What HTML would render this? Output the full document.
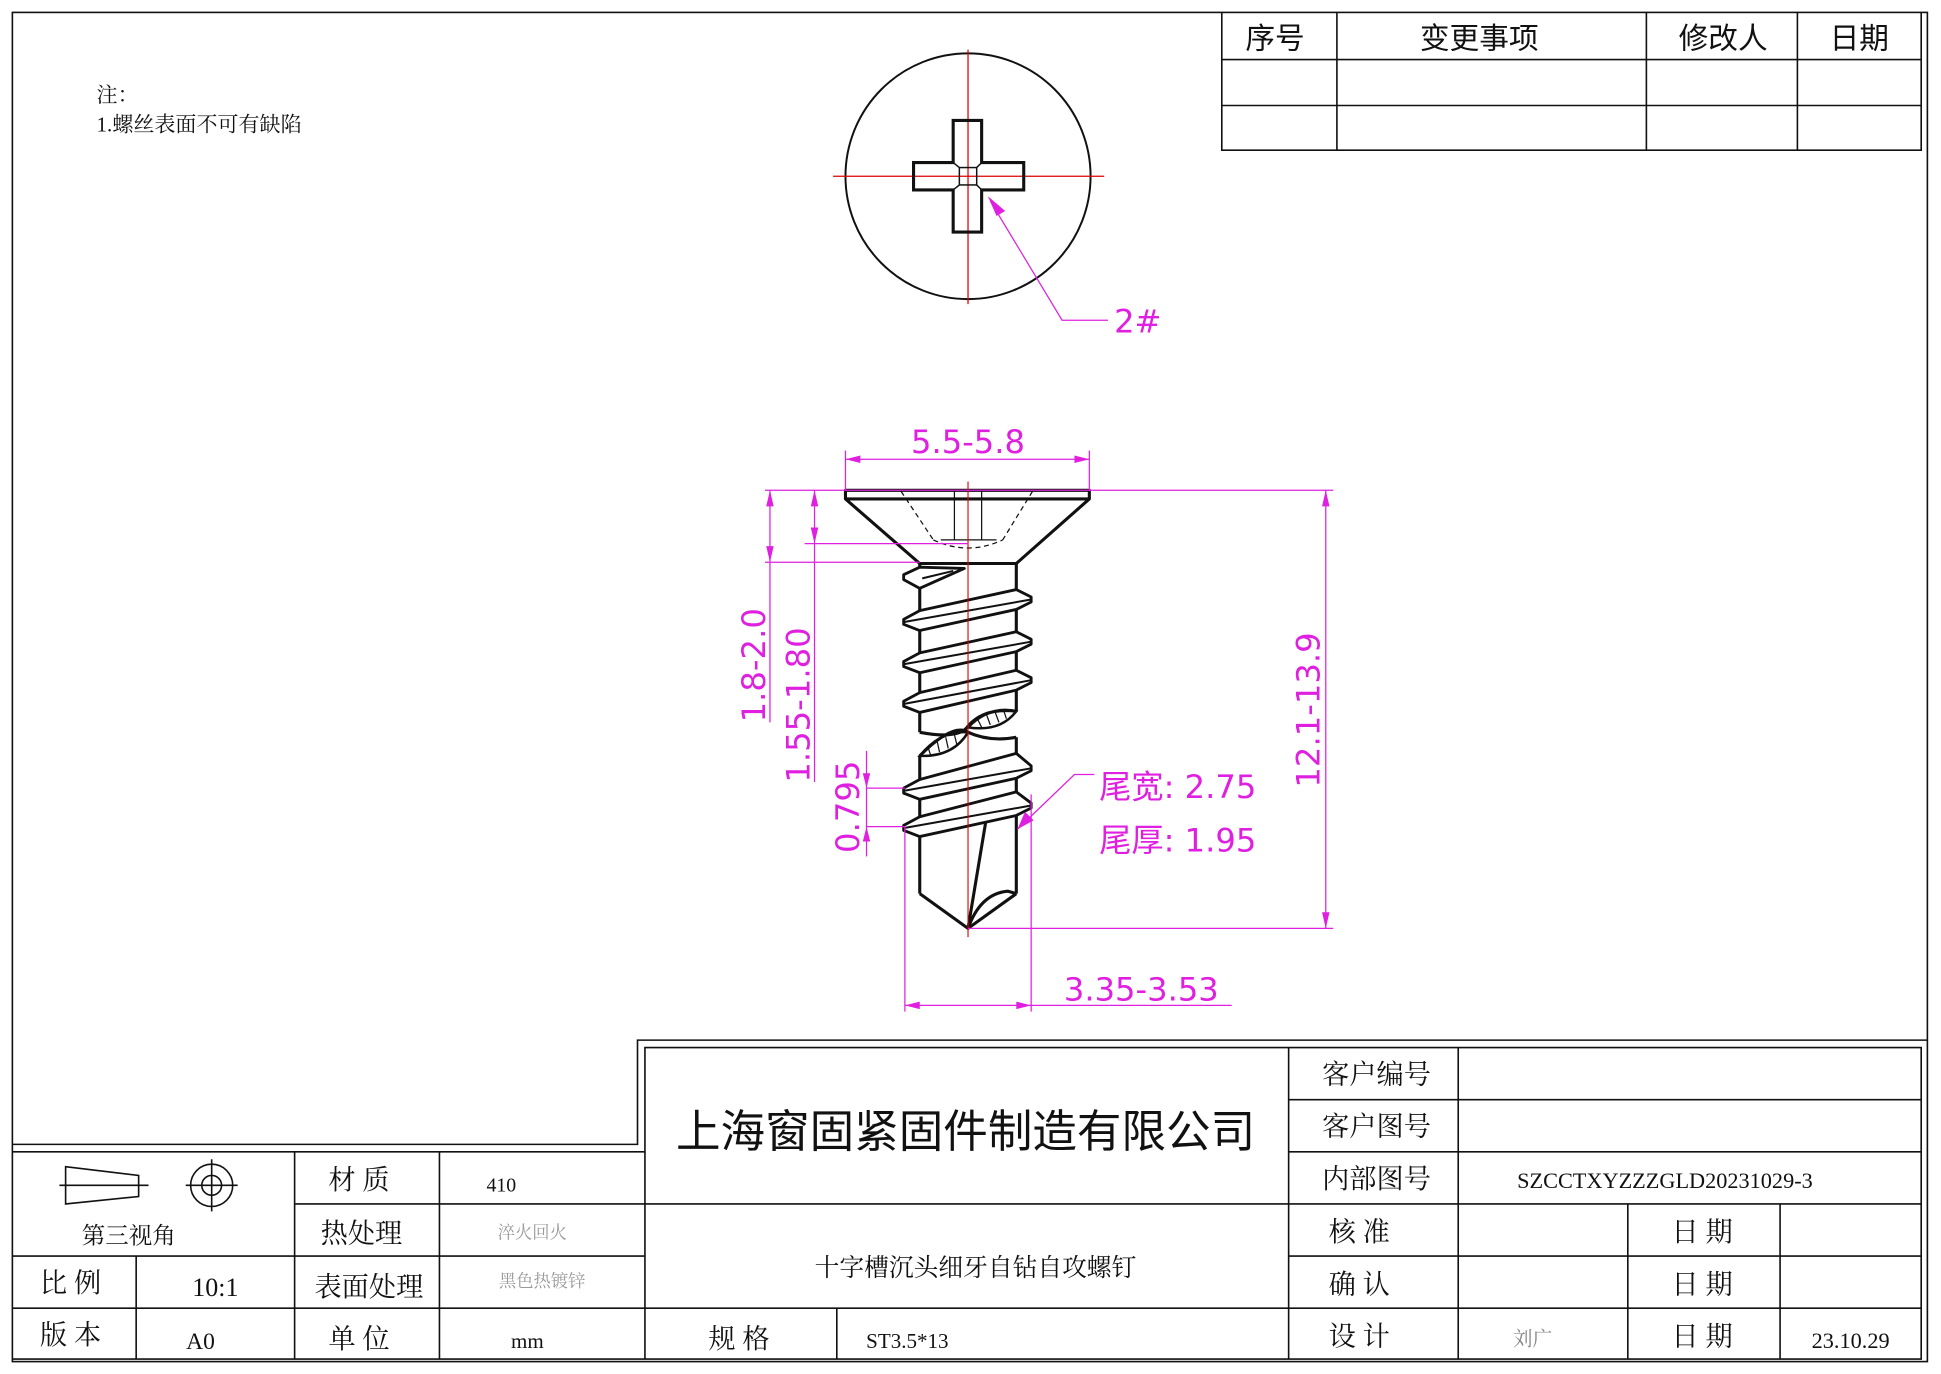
<!DOCTYPE html>
<html><head><meta charset="utf-8"><style>
html,body{margin:0;padding:0;background:#fff}
svg{display:block}
.t{font-family:"Liberation Serif","Noto Serif CJK SC",serif;fill:#111}
.s{font-family:"Liberation Sans","Noto Sans CJK SC",sans-serif}
.m{font-family:"DejaVu Sans","Liberation Sans","Noto Sans CJK SC",sans-serif;fill:#e020e0}
</style></head><body>
<svg width="1941" height="1374" viewBox="0 0 1568 1107" preserveAspectRatio="none" xmlns="http://www.w3.org/2000/svg">
<rect x="0" y="0" width="1568" height="1107" fill="#fff"/>
<g fill="none" stroke="#111" stroke-width="1.3">
<rect x="10" y="10" width="1547" height="1087"/>
<polyline points="10,922 515,922 515,838 1557,838"/>
<polyline points="10,928 521,928 521,844 1552,844 1552,1095 10,1095"/>
<line x1="521" y1="928" x2="521" y2="1095"/>
<!-- left block -->
<line x1="238" y1="928" x2="238" y2="1095"/>
<line x1="355" y1="928" x2="355" y2="1095"/>
<line x1="110" y1="1012" x2="110" y2="1095"/>
<line x1="238" y1="970" x2="521" y2="970"/>
<line x1="10" y1="1012" x2="521" y2="1012"/>
<line x1="10" y1="1054" x2="1552" y2="1054"/>
<!-- right block -->
<line x1="1041" y1="844" x2="1041" y2="1095"/>
<line x1="1178" y1="844" x2="1178" y2="1095"/>
<line x1="1315" y1="970" x2="1315" y2="1095"/>
<line x1="1438" y1="970" x2="1438" y2="1095"/>
<line x1="1041" y1="886" x2="1552" y2="886"/>
<line x1="1041" y1="928" x2="1552" y2="928"/>
<line x1="521" y1="970" x2="1552" y2="970"/>
<line x1="1041" y1="1012" x2="1552" y2="1012"/>
<line x1="676" y1="1054" x2="676" y2="1095"/>
<!-- revision table -->
<polyline points="987,10 987,121 1552,121 1552,10"/>
<line x1="987" y1="48" x2="1552" y2="48"/>
<line x1="987" y1="85" x2="1552" y2="85"/>
<line x1="1080" y1="10" x2="1080" y2="121"/>
<line x1="1330" y1="10" x2="1330" y2="121"/>
<line x1="1452" y1="10" x2="1452" y2="121"/>
<!-- projection symbol -->
<polygon points="53,940 112,947 112,964 53,970"/>
<line x1="48" y1="955" x2="120" y2="955"/>
<circle cx="171" cy="955" r="17"/>
<circle cx="171" cy="955" r="8"/>
<line x1="150" y1="955" x2="192" y2="955"/>
<line x1="171" y1="934" x2="171" y2="976"/>
</g>
<g class="s" font-size="24" fill="#111" text-anchor="middle">
<text x="1030" y="39">序号</text><text x="1195" y="39">变更事项</text><text x="1392" y="39">修改人</text><text x="1502" y="39">日期</text>
</g>
<g class="t" font-size="17"><text x="78" y="82">注：</text><text x="78" y="106">1.螺丝表面不可有缺陷</text></g>
<g class="t" font-size="22" text-anchor="middle">
<text x="104" y="1002" font-size="19">第三视角</text>
<text x="290" y="958">材 质</text><text x="292" y="1001">热处理</text><text x="298" y="1044">表面处理</text><text x="290" y="1086">单 位</text>
<text x="57" y="1041">比 例</text><text x="57" y="1083">版 本</text>
<text x="174" y="1044" font-size="21">10:1</text><text x="162" y="1087" font-size="19">A0</text>
<text x="405" y="960" font-size="16">410</text><text x="426" y="1086" font-size="17">mm</text>
<text x="430" y="998" font-size="14" fill="#999">淬火回火</text><text x="438" y="1037" font-size="14" fill="#999">黑色热镀锌</text>
<text x="780" y="924" font-size="36" class="s">上海窗固紧固件制造有限公司</text>
<text x="788" y="1028" font-size="20">十字槽沉头细牙自钻自攻螺钉</text>
<text x="597" y="1086">规 格</text>
<text x="733" y="1086" font-size="17">ST3.5*13</text>
<text x="1112" y="873">客户编号</text><text x="1112" y="915">客户图号</text><text x="1112" y="957">内部图号</text>
<text x="1345" y="957" font-size="18">SZCCTXYZZZGLD20231029-3</text>
<text x="1098" y="1000">核 准</text><text x="1098" y="1042">确 认</text><text x="1098" y="1084">设 计</text>
<text x="1375" y="1000">日 期</text><text x="1375" y="1042">日 期</text><text x="1375" y="1084">日 期</text>
<text x="1238" y="1084" font-size="16" fill="#888">刘广</text>
<text x="1495" y="1086" font-size="18">23.10.29</text>
</g>
<circle cx="782" cy="142" r="99" fill="none" stroke="#111" stroke-width="1.6"/>
<g stroke="#d00" stroke-width="1"><line x1="673" y1="142" x2="892" y2="142"/><line x1="782" y1="40" x2="782" y2="245"/></g>
<polygon points="770,97 793,97 793,131 827,131 827,153 793,153 793,187 770,187 770,153 738,153 738,131 770,131" fill="none" stroke="#111" stroke-width="2.5"/>
<g stroke="#111" stroke-width="1.2" fill="none"><rect x="775" y="135" width="14" height="14"/><line x1="770" y1="131" x2="775" y2="135"/><line x1="793" y1="131" x2="789" y2="135"/><line x1="770" y1="153" x2="775" y2="149"/><line x1="793" y1="153" x2="789" y2="149"/></g>
<g stroke="#e020e0" stroke-width="1" fill="none"><polyline points="800,162 858,258 895,258"/></g>
<polygon points="798,158 812,170 805,174" fill="#e020e0"/>
<text x="900" y="268" class="m" font-size="26">2#</text>
<g stroke="#111" stroke-width="2.5" fill="none" stroke-linejoin="round">
<polygon points="683,395 880,395 880,402 821,454 743,454 683,402" fill="#fff"/>
<line x1="683" y1="402" x2="880" y2="402"/>
<line x1="743" y1="454" x2="743" y2="590"/><line x1="821" y1="454" x2="821" y2="573"/>
<line x1="743" y1="609" x2="743" y2="720"/><line x1="821" y1="594" x2="821" y2="720"/>
<polyline points="743,720 782,748 821,720"/>
<line x1="797" y1="658" x2="782" y2="748"/>
<path d="M782,748 Q792,720 814,718 L821,720"/>
<path d="M743,590 Q775,596 782,585 Q795,570 821,573"/>
<path d="M743,609 Q770,582 782,590 Q800,598 821,594"/>
</g>
<g stroke="#111" stroke-width="1" fill="none">
<path d="M782,586 Q800,568 821,573 Q808,590 782,586 Z" stroke-width="2"/>
<path d="M743,609 Q760,588 782,590 Q770,610 743,609 Z" stroke-width="2"/>
<line x1="790" y1="580" x2="793" y2="586"/><line x1="797" y1="576" x2="800" y2="584"/><line x1="804" y1="574" x2="807" y2="582"/><line x1="811" y1="573" x2="813" y2="579"/>
<line x1="750" y1="603" x2="752" y2="609"/><line x1="757" y1="597" x2="759" y2="606"/><line x1="764" y1="594" x2="766" y2="603"/><line x1="771" y1="592" x2="773" y2="600"/>
<g stroke-dasharray="4,3"><line x1="728" y1="396" x2="754" y2="435"/><line x1="834" y1="396" x2="810" y2="435"/><path d="M754,435 Q782,448 810,435"/></g>
<line x1="771" y1="396" x2="771" y2="435"/><line x1="793" y1="396" x2="793" y2="435"/>
<line x1="760" y1="435" x2="805" y2="435"/>
</g>
<g stroke="#111" stroke-width="2.3" fill="#fff" stroke-linejoin="round">
<polygon points="743,457 730,463 730,467 743,474 779,458"/>
<polygon points="743,492 730,499 730,503 743,508 821,491 833,485 833,481 821,475"/>
<polygon points="743,526 730,533 730,537 743,542 821,525 833,519 833,515 821,509"/>
<polygon points="743,558 730,565 730,569 743,574 821,556 833,550 833,546 821,540"/>
<polygon points="743,628 730,635 730,639 743,644 821,627 833,621 833,617 821,607"/>
<polygon points="743,658 730,665 730,669 743,674 821,657 833,651 833,647 821,638"/>
</g>
<g stroke="#111" stroke-width="1.6"><line x1="731" y1="501" x2="833" y2="483"/><line x1="731" y1="535" x2="833" y2="517"/><line x1="731" y1="567" x2="833" y2="548"/><line x1="731" y1="637" x2="833" y2="619"/><line x1="731" y1="667" x2="833" y2="649"/><line x1="745" y1="466" x2="770" y2="460"/></g>
<line x1="782" y1="388" x2="782" y2="755" stroke="#d00" stroke-width="0.9"/>
<g stroke="#e020e0" stroke-width="1" fill="none">
<line x1="683" y1="363" x2="683" y2="395"/><line x1="880" y1="363" x2="880" y2="395"/><line x1="683" y1="370" x2="880" y2="370"/>
<line x1="618" y1="395" x2="1077" y2="395"/><line x1="650" y1="438" x2="782" y2="438"/><line x1="618" y1="453" x2="743" y2="453"/>
<line x1="622" y1="395" x2="622" y2="582"/><line x1="658" y1="395" x2="658" y2="630"/>
<line x1="1071" y1="395" x2="1071" y2="748"/><line x1="782" y1="748" x2="1077" y2="748"/>
<line x1="700" y1="605" x2="700" y2="690"/><line x1="700" y1="635" x2="731" y2="635"/><line x1="700" y1="666" x2="731" y2="666"/>
<line x1="731" y1="666" x2="731" y2="815"/><line x1="833" y1="640" x2="833" y2="815"/><line x1="731" y1="810" x2="995" y2="810"/>
<polyline points="822,668 868,624 884,624"/>
</g>
<g fill="#e020e0">
<polygon points="683,370 695,367 695,373"/><polygon points="880,370 868,367 868,373"/>
<polygon points="622,395 619,408 625,408"/><polygon points="622,453 619,440 625,440"/>
<polygon points="658,395 655,408 661,408"/><polygon points="658,438 655,425 661,425"/>
<polygon points="1071,395 1068,408 1074,408"/><polygon points="1071,748 1068,735 1074,735"/>
<polygon points="700,635 697,623 703,623"/><polygon points="700,666 697,678 703,678"/>
<polygon points="731,810 743,807 743,813"/><polygon points="833,810 821,807 821,813"/>
<polygon points="822,668 828,654 835,661"/>
</g>
<g class="m" font-size="26">
<text x="782" y="365" text-anchor="middle">5.5-5.8</text>
<text x="922" y="806" text-anchor="middle">3.35-3.53</text>
<text x="888" y="643">尾宽: 2.75</text>
<text x="888" y="686">尾厚: 1.95</text>
<text transform="translate(618,536) rotate(-90)" text-anchor="middle">1.8-2.0</text>
<text transform="translate(654,568) rotate(-90)" text-anchor="middle">1.55-1.80</text>
<text transform="translate(1066,572) rotate(-90)" text-anchor="middle">12.1-13.9</text>
<text transform="translate(694,650) rotate(-90)" text-anchor="middle">0.795</text>
</g>
</svg>
</body></html>
